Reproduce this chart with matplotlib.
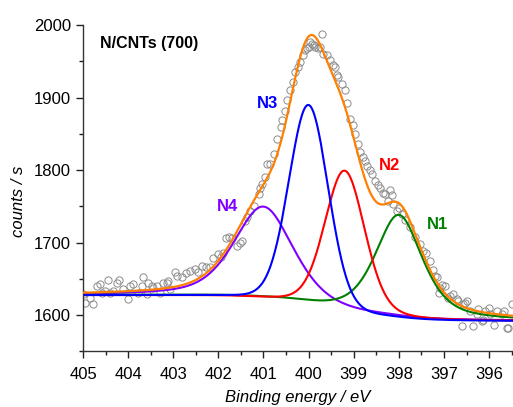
"""
N 1s XPS spectrum of N/CNTs (700) with the four fitted components.
"""

import matplotlib
matplotlib.use("Agg")
import matplotlib.pyplot as plt
import numpy as np
from matplotlib.ticker import MultipleLocator


BE_DATA = [
	405.00, 404.96, 404.85, 404.77, 404.70, 404.62, 404.58, 404.51, 404.44, 404.40,
	404.33, 404.25, 404.21, 404.11, 404.00, 403.96, 403.89, 403.78, 403.70, 403.66,
	403.59, 403.55, 403.48, 403.44, 403.37, 403.29, 403.22, 403.14, 403.11, 403.07,
	402.96, 402.92, 402.81, 402.72, 402.63, 402.52, 402.45, 402.37, 402.28, 402.18,
	402.11, 402.00, 401.94, 401.89, 401.82, 401.76, 401.70, 401.59, 401.53, 401.48,
	401.41, 401.37, 401.30, 401.22, 401.11, 401.07, 401.04, 400.96, 400.93, 400.85,
	400.77, 400.70, 400.62, 400.59, 400.52, 400.48, 400.41, 400.35, 400.30, 400.24,
	400.19, 400.13, 400.08, 400.04, 400.00, 399.96, 399.93, 399.89, 399.86, 399.80,
	399.75, 399.70, 399.67, 399.60, 399.52, 399.45, 399.41, 399.38, 399.34, 399.26,
	399.19, 399.15, 399.08, 399.01, 398.97, 398.90, 398.86, 398.80, 398.75, 398.71,
	398.65, 398.60, 398.53, 398.47, 398.41, 398.35, 398.30, 398.23, 398.19, 398.16,
	398.12, 398.04, 397.99, 397.94, 397.86, 397.75, 397.65, 397.53, 397.46, 397.39,
	397.31, 397.24, 397.20, 397.16, 397.12, 397.09, 397.05, 396.97, 396.90, 396.86,
	396.79, 396.71, 396.68, 396.61, 396.57, 396.53, 396.49, 396.42, 396.35, 396.27,
	396.24, 396.16, 396.13, 396.09, 396.01, 395.98, 395.90, 395.83, 395.72, 395.68,
	395.61, 395.57, 395.50,
]
COUNTS_DATA = [
	1629, 1617, 1624, 1615, 1640, 1643, 1631, 1633, 1649, 1631,
	1633, 1645, 1649, 1636, 1622, 1640, 1643, 1631, 1640, 1652,
	1629, 1645, 1640, 1638, 1640, 1631, 1645, 1645, 1647, 1636,
	1659, 1654, 1652, 1658, 1661, 1663, 1660, 1668, 1666, 1666,
	1679, 1684, 1680, 1686, 1706, 1708, 1706, 1695, 1700, 1702,
	1730, 1735, 1744, 1751, 1767, 1776, 1781, 1790, 1808, 1808,
	1822, 1843, 1859, 1869, 1882, 1896, 1910, 1922, 1935, 1942,
	1949, 1958, 1965, 1968, 1970, 1976, 1974, 1972, 1970, 1968,
	1970, 1988, 1960, 1958, 1952, 1945, 1942, 1931, 1929, 1918,
	1910, 1892, 1871, 1862, 1850, 1836, 1825, 1818, 1813, 1806,
	1800, 1795, 1785, 1780, 1776, 1768, 1767, 1758, 1772, 1765,
	1753, 1744, 1748, 1739, 1731, 1721, 1708, 1698, 1689, 1686,
	1675, 1662, 1654, 1652, 1631, 1638, 1642, 1640, 1624, 1626,
	1629, 1622, 1620, 1585, 1615, 1617, 1620, 1606, 1585, 1601,
	1608, 1592, 1594, 1606, 1610, 1601, 1587, 1606, 1601, 1606,
	1583, 1583, 1615,
]

# fitted components: centre / eV, height above background, FWHM / eV, Lorentz fraction
PEAK_NAMES = ["N1", "N2", "N3", "N4"]
PEAK_CENTERS = [398.0, 399.2, 400.0, 401.0]
PEAK_HEIGHTS = [142, 195, 276, 127]
PEAK_FWHM = [1.25, 1.05, 1.03, 1.55]
PEAK_LFRAC = [0.6, 0.2, 0.1, 0.5]
PEAK_COLORS = ["#008000", "#ff0000", "#0000ff", "#8000ff"]
# label anchor (left edge / eV, centre / counts)
LABEL_BE = [397.37, 398.44, 401.14, 402.03]
LABEL_COUNTS = [1725, 1806, 1892, 1750]

# Shirley background end levels (low and high binding energy side)
BG_LOW = 1592
BG_HIGH = 1627.5


def pseudo_voigt(x, center, height, fwhm, lfrac):
	d2 = 4.0 * (x - center) ** 2 / fwhm ** 2
	gauss = np.exp(-np.log(2.0) * d2)
	lorentz = 1.0 / (1.0 + d2)
	return height * ((1.0 - lfrac) * gauss + lfrac * lorentz)


def shirley_background(x, total):
	"""x ascending; background rises from BG_LOW to BG_HIGH with the peak area."""
	area = np.cumsum(total)
	return BG_LOW + (BG_HIGH - BG_LOW) * area / area[-1]


def main():
	plt.rcParams["font.family"] = ["Liberation Sans", "DejaVu Sans"]

	x_min, x_max = 395.47, 405.0
	x = np.linspace(x_min, x_max, 800)
	peaks = [
		pseudo_voigt(x, c, h, w, m)
		for c, h, w, m in zip(PEAK_CENTERS, PEAK_HEIGHTS, PEAK_FWHM, PEAK_LFRAC)
	]
	total = np.sum(peaks, axis=0)
	bg = shirley_background(x, total)

	fig = plt.figure(figsize=(5.13, 4.07), dpi=100)
	ax = fig.add_axes([0.1618, 0.1364, 0.8382, 0.8022])

	ax.plot(BE_DATA, COUNTS_DATA, "o", markersize=5.2, markerfacecolor="none",
		markeredgecolor="#8c8c8c", markeredgewidth=0.7, zorder=1)

	# draw order: N4, N1, N2, N3 so blue ends up on top of the baseline
	for i in [3, 0, 1, 2]:
		ax.plot(x, bg + peaks[i], color=PEAK_COLORS[i], linewidth=1.5, zorder=2)
	ax.plot(x, bg + total, color="#ff8000", linewidth=1.6, zorder=3)

	for name, color, bx, cy in zip(PEAK_NAMES, PEAK_COLORS, LABEL_BE, LABEL_COUNTS):
		ax.text(bx, cy, name, color=color, fontsize=12, fontweight="bold",
			ha="left", va="center")
	ax.text(0.04, 0.965, "N/CNTs (700)", transform=ax.transAxes, fontsize=11.5,
		fontweight="bold", ha="left", va="top")

	ax.set_xlim(x_max, x_min)
	ax.set_ylim(1550, 2000)
	ax.xaxis.set_major_locator(MultipleLocator(1))
	ax.xaxis.set_minor_locator(MultipleLocator(0.5))
	ax.yaxis.set_major_locator(MultipleLocator(100))
	ax.yaxis.set_minor_locator(MultipleLocator(50))
	ax.tick_params(which="major", direction="out", length=5, width=1, labelsize=12, colors="#222222")
	ax.tick_params(which="minor", direction="out", length=3, width=1, colors="#222222")
	ax.tick_params(axis="x", pad=6)
	ax.tick_params(labelcolor="black")
	ax.spines["top"].set_visible(False)
	ax.spines["right"].set_visible(False)
	for side in ["left", "bottom"]:
		ax.spines[side].set_linewidth(1.0)
		ax.spines[side].set_color("#333333")

	ax.set_xlabel("Binding energy / eV", fontsize=12, fontstyle="italic")
	ax.set_ylabel("counts / s", fontsize=12, fontstyle="italic")
	ax.xaxis.set_label_coords(0.499, -0.118)
	ax.yaxis.set_label_coords(-0.149, 0.461)
	ax.yaxis.label.set_va("center")

	fig.savefig("out.png", dpi=100)
	plt.close(fig)


if __name__ == "__main__":
	main()
